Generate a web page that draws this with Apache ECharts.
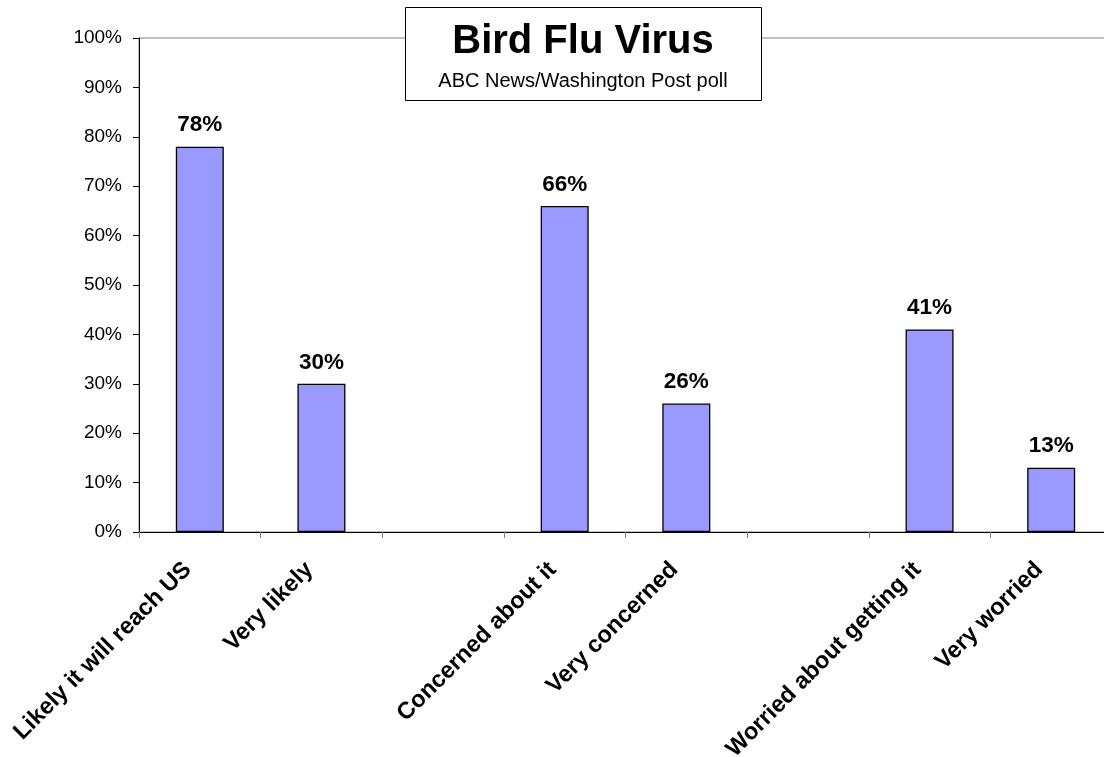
<!DOCTYPE html>
<html>
<head>
<meta charset="utf-8">
<script src="https://cdn.jsdelivr.net/npm/echarts@6/dist/echarts.min.js"></script>
<style>html,body{margin:0;padding:0;background:#fff}#c{width:1104px;height:757px}</style>
</head>
<body>
<div id="c"></div>
<script>
const categories = ['Likely it will reach US', 'Very likely', '', 'Concerned about it', 'Very concerned', '', 'Worried about getting it', 'Very worried'];
const values = [78, 30, null, 66, 26, null, 41, 13];
const yTicks = [0, 10, 20, 30, 40, 50, 60, 70, 80, 90, 100];
const titleText = 'Bird Flu Virus';
const subtitleText = 'ABC News/Washington Post poll';

const FONT = '"Liberation Sans", Arial, sans-serif';
const chart = echarts.init(document.getElementById('c'), null, {renderer: 'canvas'});
chart.setOption({
  animation: false,
  backgroundColor: '#fff',
  grid: {
    left: 139, top: 38, bottom: 225, width: 973,
    outerBoundsMode: 'none',
    show: true, borderColor: '#808080', borderWidth: 1, backgroundColor: 'transparent'
  },
  xAxis: {
    type: 'category',
    data: categories,
    axisLine: {lineStyle: {color: '#000', width: 1}},
    axisTick: {show: true, length: 6, alignWithLabel: false, interval: 0, lineStyle: {color: '#808080'}},
    axisLabel: {
      interval: 0, rotate: 45, margin: 22, padding: [0, 17, 0, 0],
      fontFamily: FONT, fontSize: 23.5, fontWeight: 'bold', color: '#000'
    },
    splitLine: {show: false}
  },
  yAxis: {
    type: 'value',
    min: yTicks[0], max: yTicks[yTicks.length - 1], interval: 10,
    axisLine: {show: true, lineStyle: {color: '#000', width: 1}},
    axisTick: {show: true, length: 6, inside: false, lineStyle: {color: '#000'}},
    axisLabel: {formatter: '{value}%', fontFamily: FONT, fontSize: 19, color: '#000', margin: 17},
    splitLine: {show: false}
  },
  series: [{
    type: 'bar',
    data: values,
    barWidth: 48,
    itemStyle: {color: '#9999FF', borderColor: '#000', borderWidth: 1.3},
    label: {
      show: true, position: 'top', distance: 10,
      formatter: p => p.value == null ? '' : p.value + '%',
      fontFamily: FONT, fontSize: 22.5, fontWeight: 'bold', color: '#000'
    }
  }],
  graphic: [
    {type: 'rect', left: 405, top: 7, z: 100,
      shape: {width: 356, height: 93},
      style: {fill: '#fff', stroke: '#000', lineWidth: 1}},
    {type: 'text', x: 583, y: 42, z: 101,
      style: {text: titleText, fontFamily: FONT, fontSize: 40, fontWeight: 'bold', fill: '#000',
        textAlign: 'center', textVerticalAlign: 'middle'}},
    {type: 'text', x: 583, y: 81, z: 101,
      style: {text: subtitleText, fontFamily: FONT, fontSize: 20, fill: '#000',
        textAlign: 'center', textVerticalAlign: 'middle'}}
  ]
});
</script>
</body>
</html>
